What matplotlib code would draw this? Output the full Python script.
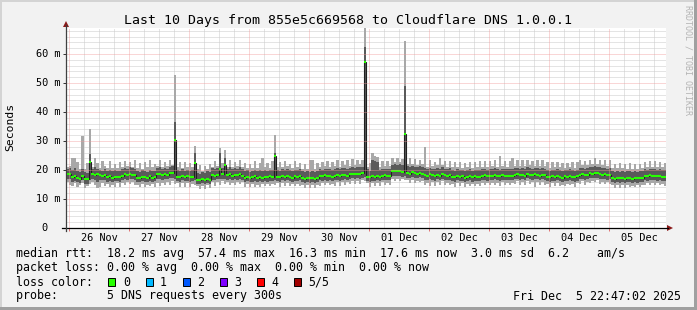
import matplotlib
matplotlib.use("Agg")
import matplotlib.pyplot as plt
import numpy as np
from matplotlib.transforms import blended_transform_factory, offset_copy
from matplotlib.patches import Polygon, Rectangle
from matplotlib.lines import Line2D

# ---------------- data (1 step = 1 hour, 240 steps, start Nov 25 22:47:02) ----------------
median = [
 18.5, 18.5, 17.5, 17.8, 17.2, 17.0, 18.0, 16.8, 16.8, 22.9, 18.5, 18.3, 18.6, 18.3, 18.0, 18.2, 17.5, 17.8, 17.3, 17.6,
 17.7, 17.5, 17.9, 18.5, 18.3, 18.7, 18.4, 18.2, 17.4, 17.2, 17.6, 17.5, 17.3, 17.8, 17.4, 17.6, 18.5, 18.7, 18.3, 18.6,
 18.4, 19.0, 19.0, 30.3, 17.7, 17.5, 17.9, 17.6, 17.8, 17.5, 17.7, 22.3, 16.6, 16.5, 16.8, 16.6, 17.0, 16.7, 18.3, 18.0,
 18.4, 20.2, 18.5, 21.7, 18.3, 18.5, 18.0, 18.4, 18.2, 18.6, 18.1, 17.4, 17.6, 17.2, 17.5, 17.8, 17.3, 17.6, 17.4, 17.7,
 17.5, 17.8, 17.6, 24.8, 17.7, 17.5, 17.9, 17.6, 18.0, 17.7, 17.4, 17.8, 17.6, 17.9, 17.2, 17.0, 17.4, 17.1, 17.3, 17.0,
 17.2, 18.0, 17.8, 18.2, 17.9, 18.1, 17.7, 18.0, 18.3, 17.9, 18.3, 18.4, 18.1, 18.5, 18.7, 18.5, 18.8, 18.6, 18.9, 57.2,
 17.7, 17.5, 17.8, 17.6, 17.9, 17.7, 18.0, 18.2, 17.9, 18.1, 19.6, 19.8, 19.5, 19.7, 19.4, 32.4, 19.0, 18.8, 19.2, 18.9,
 18.7, 19.1, 18.8, 18.3, 18.0, 18.5, 18.2, 17.9, 18.4, 18.1, 18.6, 18.2, 18.0, 18.3, 17.7, 17.5, 17.9, 17.6, 17.8, 17.4,
 17.7, 17.9, 17.5, 17.8, 17.6, 17.7, 18.0, 18.2, 17.8, 18.1, 17.9, 18.3, 18.0, 17.8, 18.2, 18.0, 17.9, 18.1, 18.0, 18.3,
 18.5, 18.2, 18.4, 18.1, 18.6, 18.3, 18.2, 18.5, 18.3, 18.0, 18.4, 18.2, 17.7, 17.5, 17.8, 17.6, 17.9, 17.7, 17.4, 17.8,
 17.6, 17.9, 17.7, 17.5, 17.8, 18.3, 18.5, 18.2, 18.4, 18.9, 18.8, 19.0, 18.9, 18.6, 18.3, 18.5, 18.2, 18.4, 17.2, 17.0,
 17.4, 17.1, 17.3, 16.9, 17.2, 17.4, 17.0, 17.3, 17.1, 17.2, 17.4, 18.0, 17.8, 18.2, 17.9, 18.1, 17.8, 18.0, 17.7, 17.6,
]
dark_hi = [
 20.3, 20.6, 20.0, 20.8, 19.6, 19.4, 20.5, 19.2, 19.0, 25.5, 20.4, 20.9, 20.2, 20.0, 19.8, 20.5, 19.7, 20.1, 19.5, 19.9,
 19.8, 19.6, 20.2, 20.7, 20.4, 21.0, 20.6, 20.3, 19.5, 19.3, 19.9, 19.6, 19.4, 20.1, 19.6, 19.8, 20.6, 20.9, 20.4, 20.8,
 20.5, 21.1, 21.4, 36.7, 19.9, 19.6, 20.2, 19.8, 20.0, 19.7, 19.9, 25.9, 19.0, 18.8, 19.3, 19.1, 19.5, 19.2, 20.6, 20.2,
 20.7, 25.9, 20.8, 24.0, 20.5, 20.9, 20.2, 20.7, 20.4, 20.9, 20.3, 19.6, 19.9, 19.4, 19.8, 20.1, 19.5, 19.9, 19.6, 20.0,
 19.8, 20.1, 19.9, 25.9, 20.0, 19.7, 20.2, 19.9, 20.3, 20.0, 19.6, 20.1, 19.9, 20.2, 19.5, 19.3, 19.7, 19.4, 19.6, 19.3,
 19.5, 20.3, 20.0, 20.5, 20.2, 20.4, 20.0, 20.3, 20.6, 20.2, 20.6, 20.7, 20.4, 20.8, 21.0, 20.8, 21.1, 20.9, 21.2, 62.5,
 20.2, 19.8, 23.5, 23.0, 22.6, 20.0, 20.3, 20.5, 20.2, 20.4, 21.9, 22.1, 21.8, 22.0, 21.7, 49.0, 21.3, 21.1, 21.5, 21.2,
 21.0, 21.4, 21.1, 20.6, 20.3, 20.8, 20.5, 20.2, 20.7, 20.4, 20.9, 20.5, 20.3, 20.6, 20.0, 19.8, 20.2, 19.9, 20.1, 19.7,
 20.0, 20.2, 19.8, 20.1, 19.9, 20.0, 20.3, 20.5, 20.1, 20.4, 20.2, 20.6, 20.3, 20.1, 20.5, 20.3, 20.2, 20.4, 20.3, 20.6,
 20.8, 20.5, 20.7, 20.4, 20.9, 20.6, 20.5, 20.8, 20.6, 20.3, 20.7, 20.5, 20.0, 19.8, 20.1, 19.9, 20.2, 20.0, 19.7, 20.1,
 19.9, 20.2, 20.0, 19.8, 20.1, 20.6, 20.8, 20.5, 20.7, 21.2, 21.1, 21.3, 21.2, 20.9, 20.6, 20.8, 20.5, 20.7, 19.5, 19.3,
 19.7, 19.4, 19.6, 19.2, 19.5, 19.7, 19.3, 19.6, 19.4, 19.5, 19.7, 20.3, 20.1, 20.5, 20.2, 20.4, 20.1, 20.3, 20.0, 19.9,
]
dark_lo = [
 16.8, 16.9, 16.0, 16.2, 15.7, 15.5, 16.4, 15.3, 15.3, 16.5, 16.9, 16.7, 15.8, 16.7, 16.4, 16.6, 16.0, 16.3, 15.8, 16.1,
 16.2, 16.0, 16.4, 16.9, 16.7, 17.0, 16.8, 16.6, 15.9, 15.7, 16.1, 16.0, 15.8, 16.3, 15.9, 16.1, 16.9, 17.0, 16.6, 16.9,
 16.8, 17.2, 17.3, 17.0, 16.2, 16.0, 16.4, 16.1, 16.3, 16.0, 16.2, 16.5, 15.2, 15.1, 15.4, 15.2, 15.6, 15.3, 16.7, 16.4,
 16.8, 16.9, 16.9, 17.0, 16.7, 16.9, 16.4, 16.8, 16.6, 17.0, 16.5, 15.9, 16.1, 15.7, 16.0, 16.3, 15.8, 16.1, 15.9, 16.2,
 16.0, 16.3, 16.1, 16.5, 16.2, 16.0, 16.4, 16.1, 16.5, 16.2, 15.9, 16.3, 16.1, 16.4, 15.7, 15.5, 15.9, 15.6, 15.8, 15.5,
 15.7, 16.4, 16.2, 16.6, 16.3, 16.5, 16.1, 16.4, 16.7, 16.3, 16.7, 16.8, 16.5, 16.9, 17.1, 16.9, 17.2, 17.0, 17.3, 17.5,
 16.2, 16.0, 16.3, 16.1, 16.4, 16.2, 16.5, 16.7, 16.4, 16.6, 17.9, 18.1, 17.8, 18.0, 17.7, 18.0, 17.4, 17.2, 17.6, 17.3,
 17.1, 17.5, 17.2, 16.7, 16.4, 16.9, 16.6, 16.3, 16.8, 16.5, 17.0, 16.6, 16.4, 16.7, 16.2, 16.0, 16.4, 16.1, 16.3, 15.9,
 16.2, 16.4, 16.0, 16.3, 16.1, 16.2, 16.5, 16.7, 16.3, 16.6, 16.4, 16.8, 16.5, 16.3, 16.7, 16.5, 16.4, 16.6, 16.5, 16.8,
 17.0, 16.7, 16.9, 16.6, 17.1, 16.8, 16.7, 17.0, 16.8, 16.5, 16.9, 16.7, 16.2, 16.0, 16.3, 16.1, 16.4, 16.2, 15.9, 16.3,
 16.1, 16.4, 16.2, 16.0, 16.3, 16.8, 17.0, 16.7, 16.9, 17.3, 17.2, 17.4, 17.3, 17.0, 16.8, 17.0, 16.7, 16.9, 15.7, 15.5,
 15.9, 15.6, 15.8, 15.4, 15.7, 15.9, 15.5, 15.8, 15.6, 15.7, 15.9, 16.5, 16.3, 16.7, 16.4, 16.6, 16.3, 16.5, 16.2, 16.1,
]
light_hi = [
 21.0, 21.5, 24.0, 24.0, 22.8, 20.5, 31.8, 20.5, 22.5, 34.0, 21.0, 24.0, 22.5, 20.8, 23.0, 21.5, 20.6, 23.2, 20.8, 22.0,
 20.6, 22.8, 21.2, 23.0, 21.4, 22.6, 21.0, 23.5, 20.8, 22.4, 20.5, 22.9, 21.0, 23.4, 20.9, 22.0, 21.5, 23.6, 21.0, 22.8,
 21.3, 23.5, 21.6, 52.8, 21.0, 22.6, 20.8, 22.9, 21.2, 22.5, 20.9, 28.4, 20.2, 21.8, 19.8, 21.5, 20.2, 22.0, 21.0, 23.0,
 21.5, 27.7, 22.5, 26.9, 21.2, 23.4, 21.0, 22.8, 21.4, 23.6, 21.0, 22.4, 20.6, 22.0, 20.8, 23.2, 20.7, 22.5, 24.0, 21.0,
 22.4, 20.8, 23.0, 32.2, 21.0, 22.6, 20.9, 23.0, 21.5, 22.2, 20.6, 23.1, 21.0, 22.5, 20.5, 22.0, 20.4, 23.5, 23.5, 20.4,
 22.3, 21.0, 22.9, 21.3, 23.2, 21.2, 22.8, 21.4, 23.4, 21.2, 23.0, 21.6, 23.5, 21.5, 23.8, 21.8, 23.6, 22.0, 23.4, 69.5,
 21.0, 22.5, 26.0, 25.0, 24.5, 21.0, 23.0, 21.5, 23.2, 21.4, 24.0, 22.8, 24.3, 22.6, 23.8, 64.5, 22.2, 24.0, 22.0, 23.8,
 21.8, 23.6, 22.0, 28.0, 21.2, 23.4, 21.3, 22.8, 21.6, 24.0, 21.9, 23.2, 21.2, 23.0, 20.9, 22.6, 21.0, 22.8, 20.8, 22.3,
 20.9, 22.8, 20.8, 22.6, 21.0, 23.0, 21.2, 23.2, 21.0, 23.0, 21.3, 23.3, 21.2, 24.8, 21.4, 23.0, 21.2, 23.1, 24.0, 21.5,
 23.4, 21.5, 23.3, 21.4, 23.6, 21.6, 23.2, 21.5, 23.3, 21.3, 23.4, 21.4, 22.6, 20.8, 22.8, 20.9, 22.9, 21.0, 22.3, 20.8,
 22.5, 20.9, 22.7, 20.8, 22.8, 23.4, 21.9, 23.2, 21.6, 23.5, 22.2, 24.0, 22.1, 23.6, 21.6, 23.5, 21.5, 23.3, 20.6, 22.0,
 20.7, 22.3, 20.6, 22.0, 20.5, 22.4, 20.4, 22.2, 20.5, 22.1, 20.8, 22.9, 21.1, 23.1, 21.2, 23.0, 21.0, 22.9, 21.0, 22.5,
]
light_lo = [
 15.8, 15.0, 14.6, 15.4, 14.0, 14.8, 15.5, 13.8, 14.6, 15.3, 16.0, 15.0, 13.9, 14.0, 15.5, 14.6, 15.2, 14.3, 15.0, 14.2,
 15.4, 14.2, 15.6, 15.0, 16.0, 15.2, 15.9, 14.8, 15.0, 14.0, 15.2, 14.2, 15.0, 14.4, 15.1, 14.3, 15.6, 14.6, 15.4, 14.8,
 15.7, 15.0, 16.2, 15.2, 15.4, 14.2, 15.5, 14.3, 15.4, 14.2, 15.3, 15.0, 14.5, 13.5, 14.6, 13.6, 14.8, 13.8, 15.8, 14.6,
 16.0, 15.0, 16.1, 15.3, 15.8, 15.0, 15.6, 14.9, 15.8, 15.1, 15.7, 14.1, 15.2, 14.0, 15.1, 14.3, 15.0, 14.2, 15.1, 14.4,
 15.2, 14.5, 15.3, 14.7, 15.4, 14.3, 15.5, 14.4, 15.6, 14.5, 15.1, 14.4, 15.3, 14.6, 14.9, 13.8, 15.0, 13.9, 14.9, 13.8,
 14.9, 14.6, 15.4, 14.8, 15.5, 14.7, 15.3, 14.6, 15.8, 14.6, 15.8, 15.0, 15.7, 15.1, 16.2, 15.2, 16.3, 15.3, 16.4, 16.2,
 15.4, 14.3, 15.5, 14.4, 15.6, 14.5, 15.7, 14.9, 15.6, 14.8, 17.0, 16.2, 17.0, 16.2, 16.8, 16.7, 16.5, 15.5, 16.7, 15.6,
 16.2, 15.7, 16.3, 15.0, 15.5, 14.6, 15.7, 14.6, 15.9, 14.8, 16.1, 14.9, 15.5, 15.0, 15.3, 14.3, 15.5, 14.4, 15.4, 14.2,
 15.3, 14.6, 15.2, 14.5, 15.2, 14.5, 15.6, 14.9, 15.4, 14.8, 15.5, 15.0, 15.6, 14.6, 15.8, 14.8, 15.5, 14.9, 15.6, 15.1,
 16.1, 15.0, 16.0, 14.9, 16.2, 15.1, 15.8, 14.2, 15.9, 14.8, 16.0, 15.0, 15.3, 14.3, 15.4, 14.4, 15.5, 14.5, 15.0, 14.6,
 15.2, 14.7, 15.3, 14.3, 15.4, 15.1, 16.1, 15.0, 16.0, 15.6, 16.3, 15.7, 16.4, 15.3, 15.9, 15.3, 15.8, 15.2, 14.8, 13.8,
 15.0, 13.9, 14.9, 13.7, 14.8, 14.2, 14.6, 14.1, 14.7, 14.0, 15.0, 14.8, 15.4, 15.0, 15.5, 14.7, 15.4, 14.8, 15.3, 14.4,
]

day_labels = ["26 Nov", "27 Nov", "28 Nov", "29 Nov", "30 Nov",
              "01 Dec", "02 Dec", "03 Dec", "04 Dec", "05 Dec"]
first_midnight_h = 1 + 12/60 + 58/3600      # Nov 26 00:00 relative to start
ytick_vals = [0, 10, 20, 30, 40, 50, 60]
ytick_labels = ["0", "10 m", "20 m", "30 m", "40 m", "50 m", "60 m"]

title = "Last 10 Days from 855e5c669568 to Cloudflare DNS 1.0.0.1"
line_rtt = "median rtt:  18.2 ms avg  57.4 ms max  16.3 ms min  17.6 ms now  3.0 ms sd  6.2    am/s"
line_loss = "packet loss: 0.00 % avg  0.00 % max  0.00 % min  0.00 % now"
loss_names = ["0", "1", "2", "3", "4", "5/5"]
loss_colors = ["#26ff00", "#00b8ff", "#0059ff", "#7e00ff", "#ff0000", "#a10000"]
line_probe = "probe:       5 DNS requests every 300s"
stamp = "Fri Dec  5 22:47:02 2025"

# ---------------- figure ----------------
W, H = 697, 310
MONO = "DejaVu Sans Mono"
plt.rcParams["font.family"] = [MONO]
BG = "#f2f2f2"
fig = plt.figure(figsize=(W/100, H/100), dpi=100, facecolor=BG)

def fx(px): return px / W
def fy(py): return 1 - py / H

X0, X1, YB, YT = 66, 666, 228, 28
ax = fig.add_axes([fx(X0), fy(YB), (X1 - X0)/W, (YB - YT)/H])
ax.set_facecolor("white")
n = len(median)
edges = np.arange(n + 1)
ax.set_xlim(0, n)
ax.set_ylim(0, 69)

# grid
minor_col, major_col = "#cbcbcb", "#f09a9a"
dots = (0, (1, 1))
midnights = [first_midnight_h + 24*k for k in range(10)]
for k in range(-1, 40):
    h = first_midnight_h + 6*k
    if 0 < h < n and k % 4 != 0:
        ax.axvline(h, color=minor_col, lw=0.72, ls=dots, zorder=0.5)
for v in range(2, 69, 2):
    if v % 10:
        ax.axhline(v, color=minor_col, lw=0.72, ls=dots, zorder=0.5)
for h in midnights:
    ax.axvline(h, color=major_col, lw=0.72, ls=dots, zorder=4, alpha=0.8)
for v in ytick_vals[1:]:
    ax.axhline(v, color=major_col, lw=0.72, ls=dots, zorder=4, alpha=0.8)

# smoke + median
ax.stairs(light_hi, edges, baseline=light_lo, fill=True, color="#a8a8a8", lw=0, zorder=1)
ax.stairs(dark_hi, edges, baseline=dark_lo, fill=True, color="#5a5a5a", lw=0, zorder=2)
ax.stairs(median, edges, baseline=None, color="#202020", lw=0.8, zorder=3)
ax.hlines(median, edges[:-1], edges[1:], colors=loss_colors[0], lw=1.5, zorder=3.5, capstyle="butt")

for s in ax.spines.values():
    s.set_visible(False)
ax.set_xticks(midnights)
ax.set_xticklabels([])
ax.set_yticks(ytick_vals)
ax.set_yticklabels([])
ax.tick_params(axis="x", length=2.5, width=0.7, color="#e07070", direction="out")
ax.tick_params(axis="y", length=2.5, width=0.7, color="#303030", direction="out")

# axes lines and arrows
fig.add_artist(Line2D([fx(62), fx(668)], [fy(228), fy(228)], color="black", lw=0.9))
fig.add_artist(Line2D([fx(66), fx(66)], [fy(231), fy(25)], color="#404040", lw=0.9))
arrow_col = "#8b1a1a"
fig.add_artist(Polygon([[fx(667), fy(225)], [fx(673), fy(228)], [fx(667), fy(231)]],
                       closed=True, color=arrow_col, lw=0))
fig.add_artist(Polygon([[fx(63), fy(27)], [fx(66), fy(21)], [fx(69), fy(27)]],
                       closed=True, color=arrow_col, lw=0))

# tick labels
axis_fs = 7.4
xtr = blended_transform_factory(ax.transData, fig.transFigure)
for k, lab in enumerate(day_labels):
    ax.text(first_midnight_h + 12 + 24*k, fy(240.7), lab, transform=xtr,
            ha="center", va="baseline", fontsize=axis_fs, color="black")
ytr = offset_copy(blended_transform_factory(fig.transFigure, ax.transData),
                  fig=fig, y=-3.0*0.72, units="points")
for v, lab in zip(ytick_vals, ytick_labels):
    xr = 60 if " " in lab else 47.6
    ax.text(fx(xr), v, lab, transform=ytr, ha="right", va="baseline",
            fontsize=axis_fs, color="black")

# titles / labels
fig.text(fx(348), fy(24), title, ha="center", va="baseline", fontsize=9.55, color="black")
fig.text(fx(10.5), fy(127), "Seconds", rotation=90, ha="center", va="center",
         fontsize=8.2, color="black")
fig.text(fx(688), fy(60), "RRDTOOL / TOBI OETIKER", rotation=270, ha="center",
         va="center", fontsize=6.0, color="#b4b4b4")

# legend
leg_fs = 8.4
fig.text(fx(16.5), fy(257.5), line_rtt, ha="left", va="baseline", fontsize=leg_fs)
fig.text(fx(16.5), fy(271.5), line_loss, ha="left", va="baseline", fontsize=leg_fs)
fig.text(fx(16.5), fy(285.5), "loss color:", ha="left", va="baseline", fontsize=leg_fs)
box_x = [108.3, 145.5, 182.5, 219.5, 256.7, 293.8]
for bx, name, col in zip(box_x, loss_names, loss_colors):
    fig.add_artist(Rectangle((fx(bx), fy(286.3)), 7/W, 8/H, facecolor=col,
                             edgecolor="black", lw=0.7))
    fig.text(fx(bx + 14.5), fy(285.5), name, ha="left", va="baseline", fontsize=leg_fs)
fig.text(fx(16.5), fy(299.5), line_probe, ha="left", va="baseline", fontsize=leg_fs)
fig.text(fx(681), fy(299.5), stamp, ha="right", va="baseline", fontsize=leg_fs)

# 3D frame
fig.add_artist(Rectangle((0, fy(2)), 1, 2/H, color="#d4d4d4", lw=0))
fig.add_artist(Rectangle((0, 0), 2/W, 1, color="#d4d4d4", lw=0))
fig.add_artist(Rectangle((0, 0), 1, 3/H, color="#a0a0a0", lw=0))
fig.add_artist(Rectangle((fx(694), 0), 3/W, 1, color="#a0a0a0", lw=0))

fig.savefig("out.png", dpi=100, facecolor=BG)
